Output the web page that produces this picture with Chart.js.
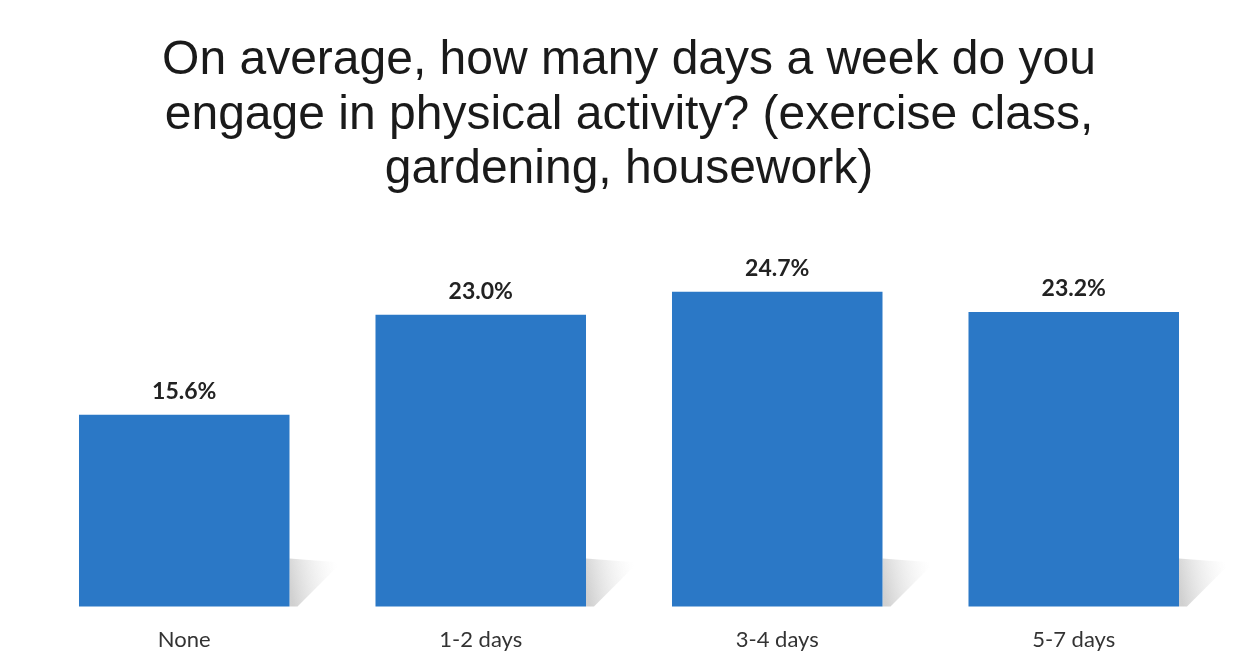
<!DOCTYPE html>
<html>
<head>
<meta charset="utf-8">
<script src="https://cdn.jsdelivr.net/npm/chart.js@4.4.1/dist/chart.umd.min.js"></script>
<style>
html,body{margin:0;padding:0;background:#fff;}
#wrap{width:1249px;height:667px;position:relative;}
</style>
</head>
<body>
<div id="wrap"><canvas id="c"></canvas></div>
<script>
const categories = ["None", "1-2 days", "3-4 days", "5-7 days"];
const values = [15.6, 23.0, 24.7, 23.2];
const valueLabels = ["15.6%", "23.0%", "24.7%", "23.2%"];
const titleLines = ["On average, how many days a week do you", "engage in physical activity? (exercise class,", "gardening, housework)"];

const barLabels = {
  id: 'barLabels',
  afterDatasetsDraw(chart) {
    const ctx = chart.ctx;
    const meta = chart.getDatasetMeta(0);
    ctx.save();
    ctx.font = 'bold 23px Lato, "Open Sans", sans-serif';
    ctx.fillStyle = '#222';
    ctx.textAlign = 'center';
    ctx.textBaseline = 'middle';
    meta.data.forEach((bar, i) => {
      ctx.fillText(valueLabels[i], bar.x, bar.y - 23);
    });
    ctx.restore();
  }
};

const barShadows = {
  id: 'barShadows',
  beforeDatasetsDraw(chart) {
    const ctx = chart.ctx;
    const meta = chart.getDatasetMeta(0);
    const base = chart.chartArea.bottom;
    ctx.save();
    meta.data.forEach((bar) => {
      const right = bar.x + bar.width / 2;
      const g = ctx.createLinearGradient(right, base - 20, right + 50, base - 30);
      g.addColorStop(0, 'rgba(170,170,170,0.55)');
      g.addColorStop(1, 'rgba(225,225,225,0)');
      ctx.fillStyle = g;
      ctx.beginPath();
      ctx.moveTo(right, base);
      ctx.lineTo(right, base - 48);
      ctx.lineTo(right + 52, base - 44);
      ctx.lineTo(right + 8, base);
      ctx.closePath();
      ctx.fill();
    });
    ctx.restore();
  }
};

new Chart(document.getElementById('c'), {
  type: 'bar',
  data: {
    labels: categories,
    datasets: [{
      data: values,
      backgroundColor: '#2b78c6',
      borderWidth: 0,
      barPercentage: 0.71,
      categoryPercentage: 1.0
    }]
  },
  options: {
    responsive: true,
    maintainAspectRatio: false,
    animation: false,
    layout: { padding: { left: 36, right: 27, top: 0, bottom: -6 } },
    plugins: {
      legend: { display: false },
      tooltip: { enabled: false },
      title: {
        display: true,
        text: titleLines,
        color: '#1a1a1a',
        font: { family: '"Liberation Sans", Arial, sans-serif', size: 48, weight: 'normal', lineHeight: 1.13 },
        padding: { top: 34, bottom: 64 }
      }
    },
    scales: {
      x: {
        grid: { display: false, drawTicks: false },
        border: { display: false },
        ticks: { color: '#333', font: { family: 'Lato, "Open Sans", sans-serif', size: 22 }, padding: 20 }
      },
      y: {
        display: false,
        min: 1.4,
        max: 27,
        grid: { display: false }
      }
    }
  },
  plugins: [barShadows, barLabels]
});
</script>
</body>
</html>
